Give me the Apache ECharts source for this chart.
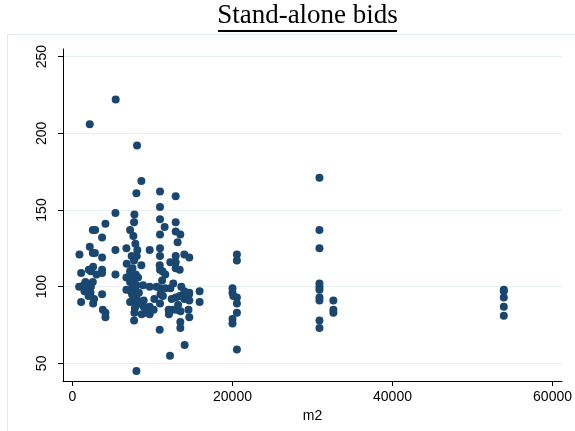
<!DOCTYPE html>
<html>
<head>
<meta charset="utf-8">
<script src="https://cdn.jsdelivr.net/npm/echarts@6/dist/echarts.min.js"></script>
<style>html,body{margin:0;padding:0;background:#fff;}#c{width:575px;height:431px;}</style>
</head>
<body>
<div id="c"></div>
<script>
// Data (m2, bid)
const m2 = [
  2160,870,1080,830,1620,1620,1080,2250,2580,2540,2830,2160,2540,2800,2580,2040,2300,3700,3700,3700,3700,2540,2300,1900,2000,1500,3700,3790,4120,4120,4120,2700,1400,3000,
  5400,8070,8610,7990,5370,7740,7700,7200,7610,7860,6740,5370,9650,8030,7700,6780,8610,7200,5370,6740,7200,7700,8200,7200,8820,9650,6740,7860,7450,7990,8900,7200,7990,9650,10150,8900,9150,7740,8650,9650,7700,7990,7500,8000,7300,8300,7600,8400,7800,7900,7500,8100,7400,
  10940,10940,10940,11520,10940,10940,10940,10900,10940,11250,11600,10980,11600,10230,10940,10900,11200,11000,10500,11300,
  12900,12900,12900,13480,13140,12900,13980,14600,12230,12900,12900,13400,12230,13980,14600,15890,12900,13400,13980,14600,15890,12020,12500,13000,13500,14500,12050,14600,13480,13480,14020,12190,12400,13200,14560,13600,12600,
  20550,20550,20000,20000,20100,20550,20550,20550,20000,20000,20550,
  30870,30870,30870,30870,30870,30870,30870,30870,30870,30870,32610,32610,32610,
  53910,53910,53910,53910,53910
];
const bid = [
  206,121,109,100,103,99,90,96,89,137,137,126,122,122,113,111,110,132,119,111,109,103,100,98,94,97,95,85,83,80,141,92,101,108,
  222,192,169,161,148,147,142,137,133,128,125,124,124,120,117,115,114,110,108,106,107,105,106,103,101,100,98,98,95,93,91,90,88,87,85,87,83,83,82,82,78,45,100,101,97,96,92,90,86,108,112,124,120,
  162,152,144,139,134,125,120,114,111,110,108,99,99,92,89,72,104,95,100,94,
  159,142,136,134,129,120,121,119,116,116,112,111,99,97,96,97,93,94,92,91,90,85,85,85,84,85,82,80,77,73,62,55,92,88,95,100,102,
  121,117,99,96,94,93,89,83,79,76,59,
  171,137,125,102,100,98,93,91,78,73,91,85,83,
  98,97,93,87,81
];
const xTicks = [0, 20000, 40000, 60000];
const yTicks = [50, 100, 150, 200, 250];
const titleText = 'Stand-alone bids';
const xName = 'm2';

const pts = m2.map((x, i) => [x, bid[i]]);
const chart = echarts.init(document.getElementById('c'), null, {renderer: 'canvas'});
chart.setOption({
  animation: false,
  backgroundColor: '#ffffff',
  graphic: [
    {type: 'rect', shape: {x: 7.5, y: 34.5, width: 700, height: 600}, style: {fill: 'none', stroke: '#e4ecef', lineWidth: 1}, silent: true, z: -1},
    {type: 'text', x: 307.5, y: 29, silent: true,
      style: {text: titleText, font: '27px "Liberation Serif"', fill: '#000', textAlign: 'center', textVerticalAlign: 'bottom'}},
    {type: 'line', shape: {x1: 218, y1: 31, x2: 397, y2: 31}, style: {stroke: '#000', lineWidth: 2}, silent: true}
  ],
  grid: {left: 63, right: 12, top: 49, bottom: 50, containLabel: false},
  xAxis: {
    type: 'value', min: -1185, max: 61180,
    name: xName, nameLocation: 'middle', nameGap: 22,
    nameTextStyle: {fontFamily: 'Liberation Sans', fontSize: 14, color: '#000'},
    axisLine: {show: true, onZero: false, lineStyle: {color: '#000', width: 1}},
    axisTick: {show: true, length: 5, customValues: xTicks, lineStyle: {color: '#000'}},
    axisLabel: {customValues: xTicks, margin: 9, fontFamily: 'Liberation Sans', fontSize: 14, color: '#000',
      formatter: v => String(v)},
    splitLine: {show: false}
  },
  yAxis: {
    type: 'value', min: 38.5, max: 255,
    axisLine: {show: true, onZero: false, lineStyle: {color: '#000', width: 1}},
    axisTick: {show: true, length: 5, customValues: yTicks, lineStyle: {color: '#000'}},
    axisLabel: {customValues: yTicks, rotate: 90, margin: 14, fontFamily: 'Liberation Sans', fontSize: 14, color: '#000',
      formatter: v => String(v)},
    splitLine: {show: false}
  },
  series: [{
    type: 'scatter',
    data: pts,
    symbol: 'circle',
    symbolSize: 8,
    itemStyle: {color: '#1a476f', opacity: 1},
    markLine: {
      silent: true, symbol: 'none', label: {show: false},
      lineStyle: {color: '#e6eef0', type: 'solid', width: 1},
      data: yTicks.map(v => ({yAxis: v})),
      z: 0
    },
    z: 3
  }]
});
</script>
</body>
</html>
